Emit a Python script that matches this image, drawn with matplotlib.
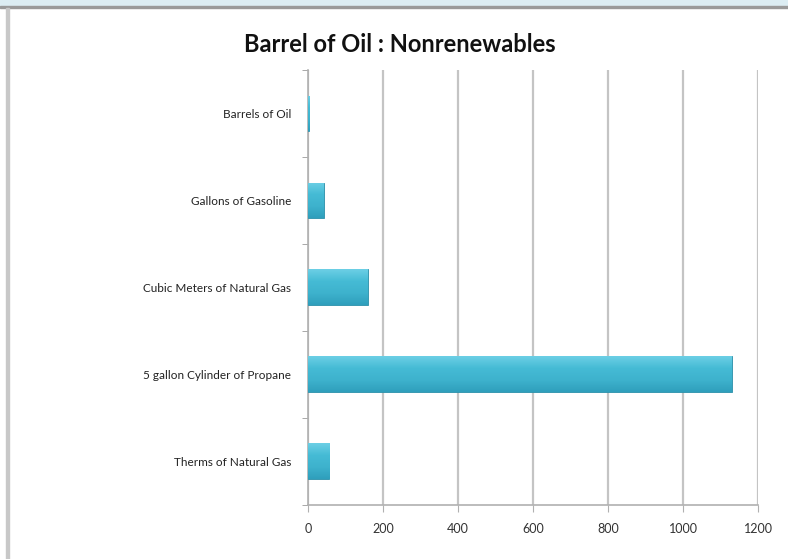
import matplotlib
matplotlib.use("Agg")
import matplotlib.pyplot as plt
import numpy as np
from matplotlib.colors import LinearSegmentedColormap
from matplotlib.patches import Rectangle

categories = [
    "Barrels of Oil",
    "Gallons of Gasoline",
    "Cubic Meters of Natural Gas",
    "5 gallon Cylinder of Propane",
    "Therms of Natural Gas",
]
values = [3, 42, 160, 1130, 57]
xticks = [0, 200, 400, 600, 800, 1000, 1200]

plt.rcParams["font.family"] = ["Lato", "DejaVu Sans"]

fig = plt.figure(figsize=(7.88, 5.59), dpi=100)

# window-like frame: light blue strip on top, grey rule and left border
fig.patches.append(Rectangle((0, 0.988), 1, 0.012, transform=fig.transFigure,
                             color="#dcedf3", zorder=0))
fig.patches.append(Rectangle((0, 0.986), 1, 0.003, transform=fig.transFigure,
                             color="#9a9a9a", zorder=0))
fig.patches.append(Rectangle((0.007, 0), 0.004, 0.986, transform=fig.transFigure,
                             color="#c8c8c8", zorder=0))

ax = fig.add_axes([0.391, 0.097, 0.571, 0.778])

y = np.arange(len(categories))
bars = ax.barh(y, values, height=0.41, color="#3fb3cf", edgecolor="#2a8fa8",
               linewidth=0.6, zorder=3)

# soft vertical gradient on every bar to mimic the bevelled look
cmap = LinearSegmentedColormap.from_list("bevel", ["#6ccfe5", "#45bbd5", "#3eb2cd", "#2f9fbc"])
grad = np.linspace(0, 1, 64).reshape(-1, 1)
for b in bars:
    x0, y0, w, h = b.get_x(), b.get_y(), b.get_width(), b.get_height()
    im = ax.imshow(grad, cmap=cmap, aspect="auto", extent=(x0, x0 + w, y0 + h, y0),
                   zorder=3.5, interpolation="bicubic")
    im.set_clip_path(b)

ax.set_xlim(0, 1200)
ax.set_ylim(len(categories) - 0.5, -0.5)
ax.set_xticks(xticks)
ax.set_yticks(y)
ax.set_yticklabels(categories)
ax.set_yticks(np.arange(len(categories) + 1) - 0.5, minor=True)

ax.grid(axis="x", color="#c4c4c4", linewidth=1.6, zorder=0)
ax.set_axisbelow(True)
for side in ("top", "right"):
    ax.spines[side].set_visible(False)
for side in ("left", "bottom"):
    ax.spines[side].set_color("#b0b0b0")
    ax.spines[side].set_linewidth(1.2)

ax.tick_params(axis="y", which="major", length=0, pad=12, labelsize=8.5, labelcolor="#222222")
ax.tick_params(axis="y", which="minor", length=4, color="#9a9a9a")
ax.tick_params(axis="x", length=5, color="#b0b0b0", labelsize=9, labelcolor="#333333", pad=8)

fig.text(0.507, 0.92, "Barrel of Oil : Nonrenewables", ha="center", va="center",
         fontsize=17, fontweight="bold", color="#111111")

fig.savefig("out.png", dpi=100)
